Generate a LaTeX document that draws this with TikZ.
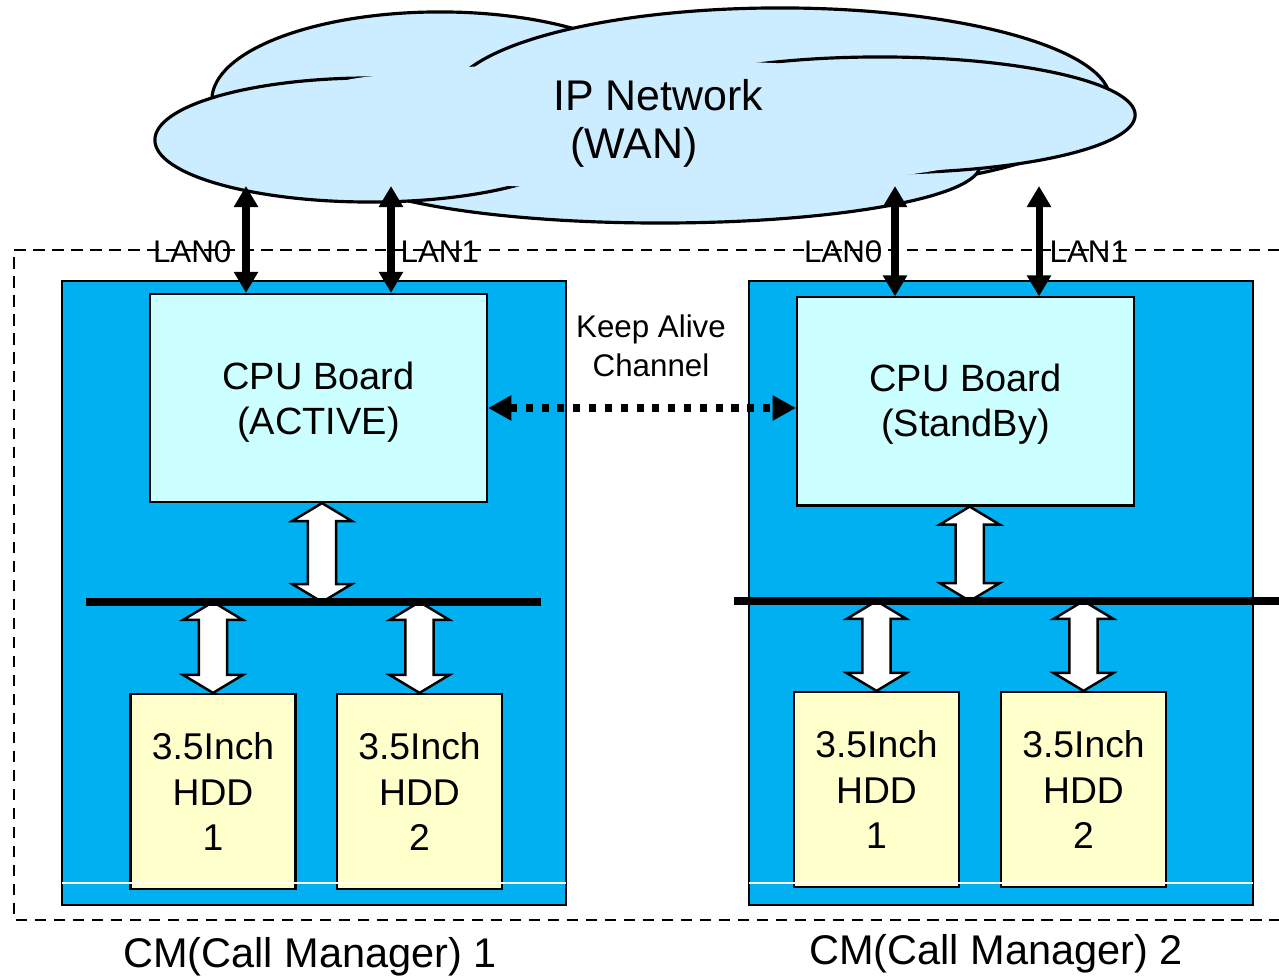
\documentclass[tikz,border=0pt]{standalone}
\usepackage{fontspec}
\setmainfont{Liberation Sans}
\usetikzlibrary{arrows.meta,calc,positioning}

\definecolor{cloudblue}{RGB}{204,236,255}
\definecolor{cmblue}{RGB}{0,176,240}
\definecolor{cpucyan}{RGB}{204,255,255}
\definecolor{hddyellow}{RGB}{255,255,204}

\tikzset{
  cloudpart/.style={draw, fill=cloudblue, line width=0.9pt},
  cmbox/.style={draw, fill=cmblue, line width=0.6pt, minimum width=5.04cm, minimum height=6.24cm},
  cpubox/.style={draw, fill=cpucyan, line width=0.6pt, minimum width=3.37cm, minimum height=2.08cm},
  cputext/.style={align=center, font=\fontsize{10.8}{12.8}\selectfont},
  hddbox/.style={draw, fill=hddyellow, line width=0.6pt, minimum width=1.65cm, minimum height=1.95cm,
    align=center, font=\fontsize{10.6}{12.8}\selectfont},
  lanlabel/.style={inner sep=0pt, font=\fontsize{8.9}{10}\selectfont},
  lanarrow/.style={line width=2pt, {Triangle[length=6pt,width=6.6pt]}-{Triangle[length=6pt,width=6.6pt]}},
  keepalive/.style={line width=2pt, dash pattern=on 2pt off 2.5pt,
    {Triangle[length=6.6pt,width=6.8pt]}-{Triangle[length=6.6pt,width=6.8pt]}},
  busline/.style={line width=2pt},
  frameline/.style={line width=0.45pt, dash pattern=on 3.2pt off 2.2pt},
  blockarrow/.style={draw, fill=white, line width=0.7pt, to path={
    let \p1=(\tikztostart), \p2=(\tikztotarget) in
    (\x1,\y1) -- (\x1+8.5pt,\y1-5.1pt) -- (\x1+4pt,\y1-5.1pt) -- (\x1+4pt,\y2+5.1pt)
    -- (\x1+8.5pt,\y2+5.1pt) -- (\x1,\y2) -- (\x1-8.5pt,\y2+5.1pt) -- (\x1-4pt,\y2+5.1pt)
    -- (\x1-4pt,\y1-5.1pt) -- (\x1-8.5pt,\y1-5.1pt) -- cycle}},
}

\begin{document}
\begin{tikzpicture}[x=0.01cm, y=-0.01cm]
\useasboundingbox (0,0) rectangle (1279,980);

% cloud
\path[cloudpart] (440,100) ellipse [x radius=2.28cm, y radius=0.88cm];
\path[cloudpart] (780,100) ellipse [x radius=3.3cm, y radius=0.92cm];
\path[cloudpart] (660,165) ellipse [x radius=3.2cm, y radius=0.58cm];
\path[cloudpart] (880,115) ellipse [x radius=2.55cm, y radius=0.58cm];
\path[cloudpart] (370,140) ellipse [x radius=2.15cm, y radius=0.62cm];
\fill[cloudblue] (650,125) ellipse [x radius=4cm, y radius=0.65cm];
\fill[cloudblue] (400,115) ellipse [x radius=1.1cm, y radius=0.4cm];
\node[font=\fontsize{12.2}{14}\selectfont] (net) at (658,95) {IP Network};
\node[font=\fontsize{12.2}{14}\selectfont] (wan) at (634,147) {(WAN)};

% outer frame
\draw[frameline] (1279,250) -- (14,250) -- (14,920) -- (1279,920);

% call managers
\node[cmbox] (cmA) at (314,593) {};
\node[cmbox] (cmB) at (1001,593) {};

\node[cpubox] (cpuA) at (318.5,398) {};
\node[cpubox] (cpuB) at (965.5,401.5) {};
\node[cputext] (cpuAtxt) at ([yshift=-1.3pt]cpuA.center) {CPU Board\\(ACTIVE)};
\node[cputext] (cpuBtxt) at ([yshift=-0.8pt]cpuB.center) {CPU Board\\(StandBy)};

\node[hddbox] (hddA1) at (213,791.5) {3.5Inch\\HDD\\1};
\node[hddbox] (hddA2) at (419.5,791.5) {3.5Inch\\HDD\\2};
\node[hddbox] (hddB1) at (876.5,789.5) {3.5Inch\\HDD\\1};
\node[hddbox] (hddB2) at (1083.5,789.5) {3.5Inch\\HDD\\2};

\draw[white, line width=0.3pt] (62,883) -- (566,883);
\draw[white, line width=0.3pt] (749,883) -- (1253,883);

% internal buses
\coordinate (busAl) at (86,602);
\coordinate (busAr) at (541,602);
\coordinate (busBl) at (734,601);
\coordinate (busBr) at (1279,601);

\draw[blockarrow] ([xshift=1pt]cpuA.south) to ([xshift=1pt]cpuA.south |- busAl);
\draw[blockarrow] (hddA1.north |- busAl) to (hddA1.north);
\draw[blockarrow] (hddA2.north |- busAl) to (hddA2.north);
\draw[blockarrow] ([xshift=1.2pt]cpuB.south) to ([xshift=1.2pt]cpuB.south |- busBl);
\draw[blockarrow] (hddB1.north |- busBl) to (hddB1.north);
\draw[blockarrow] (hddB2.north |- busBl) to (hddB2.north);

\draw[busline] (busAl) -- (busAr);
\draw[busline] (busBl) -- (busBr);

% LAN links
\coordinate (lanA0) at (246,186);
\coordinate (lanA1) at (391,186);
\coordinate (lanB0) at (895,186);
\coordinate (lanB1) at (1039,186);

\draw[lanarrow] (lanA0) -- (lanA0 |- cpuA.north);
\draw[lanarrow] (lanA1) -- (lanA1 |- cpuA.north);
\draw[lanarrow] (lanB0) -- (lanB0 |- cpuB.north);
\draw[lanarrow] (lanB1) -- (lanB1 |- cpuB.north);

\node[lanlabel, anchor=east] (lblA0) at (232,252) {LAN0};
\node[lanlabel, anchor=west] (lblA1) at (400,252) {LAN1};
\node[lanlabel, anchor=east] (lblB0) at (883,252) {LAN0};
\node[lanlabel, anchor=west] (lblB1) at (1049,252) {LAN1};

% keep alive channel
\coordinate (ka) at (651,408);
\draw[keepalive] (cpuA.east |- ka) -- (cpuB.west |- ka);
\node[align=center, font=\fontsize{8.9}{11.1}\selectfont] (kalbl) at (651,346) {Keep Alive\\Channel};

% captions
\node[font=\fontsize{11.8}{14}\selectfont] (capA) at (310,957) {CM(Call Manager) 1};
\node[font=\fontsize{11.8}{14}\selectfont] (capB) at (996,954) {CM(Call Manager) 2};
\end{tikzpicture}
\end{document}
